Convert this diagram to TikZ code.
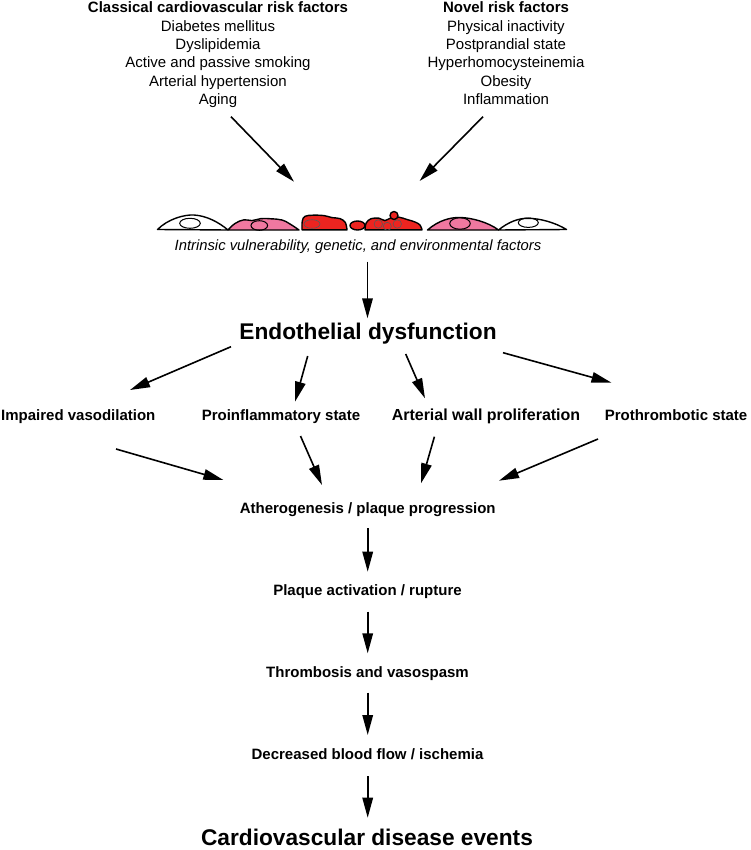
\documentclass[tikz,border=0pt]{standalone}
\usepackage{fontspec}
\setmainfont{Liberation Sans}
\usetikzlibrary{arrows.meta,calc}
\definecolor{cellred}{RGB}{236,36,32}
\definecolor{cellpink}{RGB}{240,120,160}
\tikzset{
  arr/.style={line width=1.6pt, -{Triangle[length=20pt,width=10.5pt]}},
  lbl/.style={inner sep=0pt, font=\bfseries\fontsize{15}{18}\selectfont},
  lblb/.style={inner sep=0pt, font=\bfseries\fontsize{16}{19}\selectfont},
  big/.style={inner sep=0pt, font=\bfseries\fontsize{22.7}{27}\selectfont},
  listtext/.style={inner sep=0pt, align=center, font=\fontsize{15}{18.3}\selectfont},
  ital/.style={inner sep=0pt, font=\itshape\fontsize{14.8}{18}\selectfont},
  cellline/.style={draw=black, line width=1.4pt, line join=round},
  nuc/.style={draw=black, line width=1pt},
  nucthin/.style={draw=black!65, line width=0.6pt},
}
\begin{document}
\begin{tikzpicture}[x=1pt,y=-1pt]
\useasboundingbox (0,0) rectangle (750,850);
\fill[white] (0,0) rectangle (750,850);

% risk factor lists
\node[listtext, anchor=north] (classical) at (218,1.8)
  {\textbf{Classical cardiovascular risk factors}\\Diabetes mellitus\\Dyslipidemia\\Active and passive smoking\\Arterial hypertension\\Aging};
\node[listtext, anchor=north] (novel) at (506,1.8)
  {\textbf{Novel risk factors}\\Physical inactivity\\Postprandial state\\Hyperhomocysteinemia\\Obesity\\Inflammation};

% endothelial cells
\filldraw[fill=white, cellline] (157.5,229.5) .. controls (168,219) and (184,214.5) .. (194,215) .. controls (207,215.8) and (219,222.5) .. (228,230) -- cycle;
\draw[nuc] (190,223.3) ellipse [x radius=10.3, y radius=5];

\filldraw[fill=cellpink, cellline] plot[smooth, tension=0.7] coordinates {(228,230) (235,223.5) (244,219.8) (252,220.6) (261,218.6) (271,218.8) (282,220) (290,224) (299,230)} -- cycle;
\draw[nuc] (259.3,225.5) ellipse [x radius=8.3, y radius=4.8];

\filldraw[fill=cellred, cellline] plot[smooth, tension=0.6] coordinates {(302,229.8) (302.3,221) (305,216.3) (313,215.2) (324,215.6) (332,217.6) (340,218.6) (345.3,222.5) (347,229.8)} -- cycle;
\draw[nucthin] (312,224) ellipse [x radius=8, y radius=4.3];

\filldraw[fill=cellred, cellline] (357.5,225.5) ellipse [x radius=7.5, y radius=4.5];

\filldraw[fill=cellred, cellline] plot[smooth, tension=0.6] coordinates {(365,229.8) (366.2,223) (371,218.7) (379,218.2) (385,220.6) (391,217.8) (399,217.2) (407,219.5) (415,222) (420,225) (422,229.8)} -- cycle;
\filldraw[fill=cellred, cellline] (394,215.5) circle [radius=4];
\draw[nucthin] (378.3,224) circle [radius=4.2];
\draw[nucthin] (387.3,226.3) circle [radius=4];
\draw[nucthin] (397.3,224) circle [radius=4.2];

\filldraw[fill=cellpink, cellline] (427.5,230) .. controls (439,220) and (451,217.3) .. (460,217.5) .. controls (471,217.7) and (488,222) .. (498.5,230) -- cycle;
\draw[nuc] (460,223.5) ellipse [x radius=10.3, y radius=5.7];

\filldraw[fill=white, cellline] (498.5,230) .. controls (509,221.5) and (519,218.2) .. (528,218.3) .. controls (540,218.4) and (555,222.5) .. (566.5,229.5) -- cycle;
\draw[nuc] (528.3,222.7) ellipse [x radius=10, y radius=4.7];

\coordinate (cellL) at (294,181.7);
\coordinate (cellR) at (419.6,181);

\node[ital, anchor=base] (intr) at (358,250) {Intrinsic vulnerability, genetic, and environmental factors};

% main nodes
\node[big, anchor=base] (endo) at (368,339.3) {Endothelial dysfunction};
\node[lbl, anchor=base west] (impaired) at (1,420.5) {Impaired vasodilation};
\node[lbl, anchor=base] (proinfl) at (281,420.5) {Proinflammatory state};
\node[lblb, anchor=base] (arterial) at (486,420.5) {Arterial wall proliferation};
\node[lbl, anchor=base east] (prothromb) at (747.5,420.5) {Prothrombotic state};
\node[lbl, anchor=base] (ath) at (367.7,513.3) {Atherogenesis / plaque progression};
\node[lbl, anchor=base] (plaque) at (367.5,595) {Plaque activation / rupture};
\node[lbl, anchor=base] (thromb) at (367.5,677.5) {Thrombosis and vasospasm};
\node[lbl, anchor=base] (decr) at (367.5,759.5) {Decreased blood flow / ischemia};
\node[big, anchor=base] (cvd) at (367,845.5) {Cardiovascular disease events};

% connectors
\draw[arr] ($(classical.north)+(13,114.9)$) -- (cellL);
\draw[arr] ($(novel.north)+(-23,114.9)$) -- (cellR);
\draw[arr] ($(intr.base)+(9.5,11.7)$) -- ($(endo.base)+(-0.5,-21)$);

\draw[arr] ($(endo.base)+(-137,7.4)$) -- ($(impaired.base west)+(129,-30.5)$);
\draw[arr] ($(endo.base)+(-60.3,16.7)$) -- ($(proinfl.base)+(14,-18.8)$);
\draw[arr] ($(endo.base)+(37.7,14.7)$) -- ($(arterial.base)+(-61,-22.2)$);
\draw[arr] ($(endo.base)+(135,13.4)$) -- ($(prothromb.base east)+(-136,-37.8)$);

\draw[arr] ($(impaired.base west)+(115,28.5)$) -- ($(ath.base)+(-144.3,-33.3)$);
\draw[arr] ($(proinfl.base)+(19.5,15.5)$) -- ($(ath.base)+(-45.7,-28.3)$);
\draw[arr] ($(arterial.base)+(-51.6,16.2)$) -- ($(ath.base)+(53.3,-30)$);
\draw[arr] ($(prothromb.base east)+(-149.5,18.5)$) -- ($(ath.base)+(131.3,-32.6)$);

\draw[arr] ($(ath.base)+(0,15)$) -- ($(plaque.base)+(0.2,-23.3)$);
\draw[arr] ($(plaque.base)+(0.2,16.7)$) -- ($(thromb.base)+(0.2,-24.2)$);
\draw[arr] ($(thromb.base)+(0.2,15.2)$) -- ($(decr.base)+(0.2,-24.5)$);
\draw[arr] ($(decr.base)+(0.2,16.5)$) -- ($(cvd.base)+(0.7,-27.8)$);
\end{tikzpicture}
\end{document}
